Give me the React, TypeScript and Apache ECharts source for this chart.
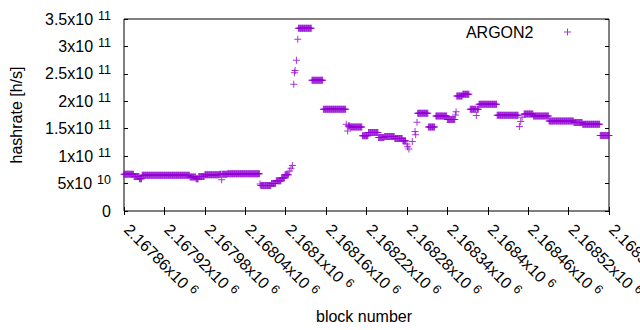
import React, { useEffect, useRef } from "react";
import * as echarts from "echarts";

// Runs of blocks that share one hashrate reading (first block, last block, hashrate in h/s)
const runStartBlock = [
  2167860, 2167875, 2167883, 2167887, 2167958, 2167967, 2167971, 2167980, 2168002, 2168005,
  2168006, 2168014, 2168062, 2168063, 2168079, 2168086, 2168094, 2168099, 2168106, 2168108,
  2168110, 2168112, 2168113, 2168114, 2168116, 2168118, 2168119, 2168139, 2168156, 2168190,
  2168192, 2168193, 2168196, 2168214, 2168223, 2168238, 2168247, 2168262, 2168274, 2168280,
  2168281, 2168283, 2168288, 2168292, 2168293, 2168295, 2168296, 2168312, 2168323, 2168340,
  2168352, 2168353, 2168354, 2168363, 2168374, 2168383, 2168384, 2168387, 2168414, 2168447,
  2168449, 2168451, 2168454, 2168468, 2168491, 2168528, 2168541, 2168567,
];
const runEndBlock = [
  2167874, 2167882, 2167886, 2167957, 2167966, 2167970, 2167979, 2168001, 2168004, 2168005,
  2168013, 2168061, 2168062, 2168078, 2168085, 2168093, 2168098, 2168104, 2168106, 2168108,
  2168110, 2168112, 2168113, 2168114, 2168116, 2168118, 2168138, 2168155, 2168189, 2168190,
  2168192, 2168195, 2168213, 2168222, 2168237, 2168246, 2168261, 2168273, 2168278, 2168280,
  2168281, 2168283, 2168288, 2168292, 2168293, 2168295, 2168311, 2168321, 2168339, 2168351,
  2168352, 2168353, 2168362, 2168372, 2168382, 2168383, 2168386, 2168413, 2168445, 2168447,
  2168449, 2168451, 2168467, 2168490, 2168527, 2168540, 2168566, 2168580,
];
const runHashrate = [
  6.7e10, 6.3e10, 5.9e10, 6.5e10, 6.2e10, 5.9e10, 6.3e10, 6.6e10, 6.7e10, 5.7e10,
  6.7e10, 6.8e10, 4.9e10, 4.65e10, 5.0e10, 5.5e10, 6.0e10, 6.6e10, 7.3e10, 7.8e10,
  8.3e10, 2.31e11, 2.52e11, 2.56e11, 2.75e11, 3.13e11, 3.33e11, 2.385e11, 1.857e11, 1.58e11,
  1.46e11, 1.55e11, 1.53e11, 1.37e11, 1.43e11, 1.34e11, 1.36e11, 1.32e11, 1.28e11, 1.22e11,
  1.17e11, 1.13e11, 1.265e11, 1.45e11, 1.39e11, 1.62e11, 1.784e11, 1.53e11, 1.73e11, 1.67e11,
  1.75e11, 1.81e11, 2.095e11, 2.13e11, 1.857e11, 1.74e11, 1.857e11, 1.948e11, 1.747e11, 1.54e11,
  1.63e11, 1.71e11, 1.766e11, 1.73e11, 1.64e11, 1.615e11, 1.58e11, 1.375e11,
];

const seriesName = "ARGON2";
const xTitle = "block number";
const yTitle = "hashrate [h/s]";

const X_MIN = 2167860;
const X_MAX = 2168580;
const X_STEP = 60;
const Y_MIN = 0;
const Y_MAX = 3.5e11;
const Y_STEP = 5e10;

const FONT = '"Liberation Sans", Arial, sans-serif';
const COLOR = "#9400d3";
const PLUS = "path://M-1,-0.143H1V0.143H-1Z M-0.143,-1H0.143V1H-0.143Z";

function buildPoints(): number[][] {
  const pts: number[][] = [];
  for (let i = 0; i < runStartBlock.length; i++) {
    for (let b = runStartBlock[i]; b <= runEndBlock[i]; b++) {
      pts.push([b, runHashrate[i]]);
    }
  }
  return pts;
}

function sciLabel(v: number, fixedExp?: number): string {
  if (v === 0) return "{b|0}";
  const e = fixedExp !== undefined ? fixedExp : Math.floor(Math.log10(v) + 1e-9);
  const m = parseFloat((v / Math.pow(10, e)).toFixed(5));
  return `{b|${m}x10}{s|${e}}`;
}

const richY = {
  b: { fontSize: 16, fontFamily: FONT, color: "#000" },
  s: { fontSize: 12.5, fontFamily: FONT, color: "#000", padding: [0, 0, 7, 5] },
};
const richX = {
  b: { fontSize: 16, fontFamily: FONT, color: "#000", padding: [0, 0, 0, 4] },
  s: { fontSize: 12.5, fontFamily: FONT, color: "#000", padding: [0, 0, 7, 5] },
};

export default function App() {
  const ref = useRef<HTMLDivElement>(null);
  useEffect(() => {
    if (!ref.current) return;
    const chart = echarts.init(ref.current, null, { renderer: "svg" });
    const tick = { show: true, inside: true, length: 4, lineStyle: { color: "#000", width: 1 } };
    chart.setOption({
      animation: false,
      backgroundColor: "#fff",
      grid: {
        show: true,
        borderColor: "#000",
        borderWidth: 1,
        left: 124,
        right: 31,
        top: 19,
        bottom: 119,
        containLabel: false,
        outerBoundsMode: "none",
      },
      legend: {
        data: [seriesName],
        right: 69,
        top: 24,
        padding: 0,
        align: "right",
        itemWidth: 7,
        itemHeight: 7,
        icon: PLUS,
        selectedMode: false,
        textStyle: { fontSize: 16, fontFamily: FONT, color: "#000", padding: [0, 25.5, 0, 0] },
      },
      xAxis: [
        {
          type: "value",
          min: X_MIN,
          max: X_MAX,
          interval: X_STEP,
          axisLine: { show: false },
          axisTick: tick,
          splitLine: { show: false },
          axisLabel: {
            rotate: -45,
            margin: 13,
            formatter: (v: number) => sciLabel(v, 6),
            rich: richX,
          },
        },
        {
          type: "value",
          position: "top",
          min: X_MIN,
          max: X_MAX,
          interval: X_STEP,
          axisLine: { show: false },
          axisTick: tick,
          splitLine: { show: false },
          axisLabel: { show: false },
        },
      ],
      yAxis: [
        {
          type: "value",
          min: Y_MIN,
          max: Y_MAX,
          interval: Y_STEP,
          axisLine: { show: false },
          axisTick: tick,
          splitLine: { show: false },
          axisLabel: { margin: 13, formatter: (v: number) => sciLabel(v), rich: richY },
        },
        {
          type: "value",
          position: "right",
          min: Y_MIN,
          max: Y_MAX,
          interval: Y_STEP,
          axisLine: { show: false },
          axisTick: tick,
          splitLine: { show: false },
          axisLabel: { show: false },
        },
      ],
      graphic: [
        {
          type: "text",
          x: 364,
          y: 316.5,
          style: {
            text: xTitle,
            fontSize: 16,
            fontFamily: FONT,
            fill: "#000",
            align: "center",
            verticalAlign: "middle",
          },
        },
        {
          type: "text",
          x: 16,
          y: 115,
          rotation: Math.PI / 2,
          style: {
            text: yTitle,
            fontSize: 16,
            fontFamily: FONT,
            fill: "#000",
            align: "center",
            verticalAlign: "middle",
          },
        },
      ],
      series: [
        {
          type: "scatter",
          name: seriesName,
          xAxisIndex: 0,
          yAxisIndex: 0,
          data: buildPoints(),
          symbol: PLUS,
          symbolSize: 7,
          itemStyle: { color: COLOR },
          clip: false,
          silent: true,
        },
      ],
    });
    return () => chart.dispose();
  }, []);
  return (
    <div
      ref={ref}
      style={{ position: "fixed", left: 0, top: 0, width: 640, height: 330, background: "#fff" }}
    />
  );
}
